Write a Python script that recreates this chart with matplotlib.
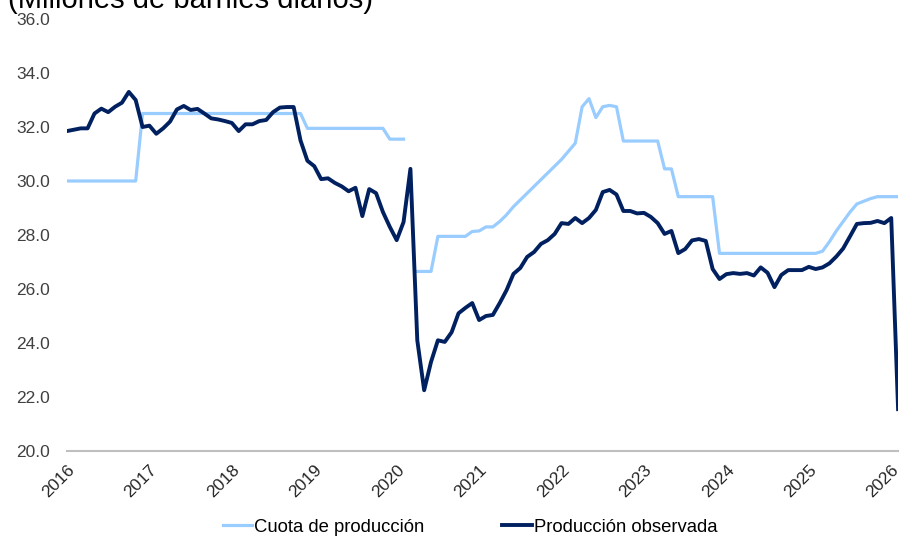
import numpy as np
import matplotlib.pyplot as plt

plt.rcParams['font.family'] = ['Liberation Sans', 'DejaVu Sans']

# DATOS -------------------------------------------------------------------

# meses desde enero 2016 hasta febrero 2026
years = list(range(2016, 2027))

quota = [
    30.0, 30.0, 30.0, 30.0, 30.0, 30.0, 30.0, 30.0, 30.0, 30.0, 30.0, 32.5,   # 2016
    32.5, 32.5, 32.5, 32.5, 32.5, 32.5, 32.5, 32.5, 32.5, 32.5, 32.5, 32.5,   # 2017
    32.5, 32.5, 32.5, 32.5, 32.5, 32.5, 32.5, 32.5, 32.5, 32.5, 32.5, 31.95,  # 2018
    31.95, 31.95, 31.95, 31.95, 31.95, 31.95, 31.95, 31.95, 31.95, 31.95, 31.95, 31.55,  # 2019
    31.55, 31.55, np.nan, 26.65, 26.65, 26.65, 27.95, 27.95, 27.95, 27.95, 27.95, 28.13,  # 2020
    28.15, 28.3, 28.3, 28.5, 28.75, 29.05, 29.3, 29.55, 29.8, 30.05, 30.3, 30.55,  # 2021
    30.8, 31.1, 31.4, 32.75, 33.05, 32.35, 32.75, 32.8, 32.75, 31.48, 31.48, 31.48,  # 2022
    31.48, 31.48, 31.48, 30.45, 30.45, 29.42, 29.42, 29.42, 29.42, 29.42, 29.42, 27.32,  # 2023
    27.32, 27.32, 27.32, 27.32, 27.32, 27.32, 27.32, 27.32, 27.32, 27.32, 27.32, 27.32,  # 2024
    27.32, 27.32, 27.4, 27.75, 28.15, 28.5, 28.85, 29.15, 29.25, 29.35, 29.42, 29.42,  # 2025
    29.42, 29.42,  # 2026
]

production = [
    31.85, 31.9, 31.95, 31.95, 32.5, 32.68, 32.55, 32.75, 32.9, 33.3, 33.0, 32.0,  # 2016
    32.05, 31.75, 31.95, 32.2, 32.65, 32.78, 32.63, 32.67, 32.5, 32.32, 32.28, 32.22,  # 2017
    32.15, 31.85, 32.1, 32.1, 32.22, 32.26, 32.55, 32.72, 32.74, 32.74, 31.5, 30.75,  # 2018
    30.55, 30.07, 30.1, 29.93, 29.8, 29.62, 29.75, 28.7, 29.7, 29.55, 28.85, 28.3,  # 2019
    27.81, 28.48, 30.45, 24.1, 22.25, 23.3, 24.1, 24.04, 24.4, 25.1, 25.3, 25.48,  # 2020
    24.85, 25.0, 25.04, 25.48, 25.96, 26.56, 26.78, 27.19, 27.37, 27.67, 27.81, 28.04,  # 2021
    28.44, 28.41, 28.63, 28.44, 28.63, 28.93, 29.59, 29.67, 29.5, 28.89, 28.89, 28.8,  # 2022
    28.82, 28.67, 28.44, 28.04, 28.15, 27.33, 27.48, 27.8, 27.85, 27.78, 26.74, 26.37,  # 2023
    26.55, 26.59, 26.56, 26.59, 26.5, 26.8, 26.6, 26.07, 26.52, 26.7, 26.7, 26.7,  # 2024
    26.82, 26.74, 26.8, 26.95, 27.2, 27.5, 27.95, 28.41, 28.44, 28.45, 28.52, 28.44,  # 2025
    28.63, 21.55,  # 2026
]

months = np.arange(len(production))

# GRÁFICO -----------------------------------------------------------------

fig = plt.figure(figsize = (9.09, 5.4), dpi = 100)
ax = fig.add_axes([0.0737, 0.1648, 0.9143, 0.8000])

ax.plot(months, quota, color = '#99CCFF', linewidth = 2.3, label = 'Cuota de producción')
ax.plot(months, production, color = '#002060', linewidth = 2.8, label = 'Producción observada')

ax.set_xlim(0, 121)
ax.set_ylim(20, 36)
ax.set_yticks(np.arange(20, 37, 2))
ax.set_yticklabels([f'{v:.1f}' for v in np.arange(20, 37, 2)], fontsize = 12.5, color = '#404040')
ax.set_xticks([12 * i for i in range(len(years))])
ax.set_xticklabels([str(y) for y in years], fontsize = 12.5, color = '#262626',
                   rotation = 45, ha = 'right', va = 'top', rotation_mode = 'anchor')
ax.tick_params(axis = 'y', length = 0, pad = 12)
ax.tick_params(axis = 'x', length = 0, pad = 8)

for s in ['top', 'right', 'left']:
    ax.spines[s].set_visible(False)
ax.spines['bottom'].set_color('#BFBFBF')
ax.spines['bottom'].set_linewidth(1.5)

fig.text(0.009, 0.985, '(Millones de barriles diarios)', fontsize = 21, va = 'baseline')

fig.legend(loc = 'center', bbox_to_anchor = (0.517, 0.024), ncol = 2, frameon = False,
           fontsize = 13.3, handlelength = 1.6, handletextpad = 0.1, columnspacing = 4.2)

fig.savefig('out.png', dpi = 100)
